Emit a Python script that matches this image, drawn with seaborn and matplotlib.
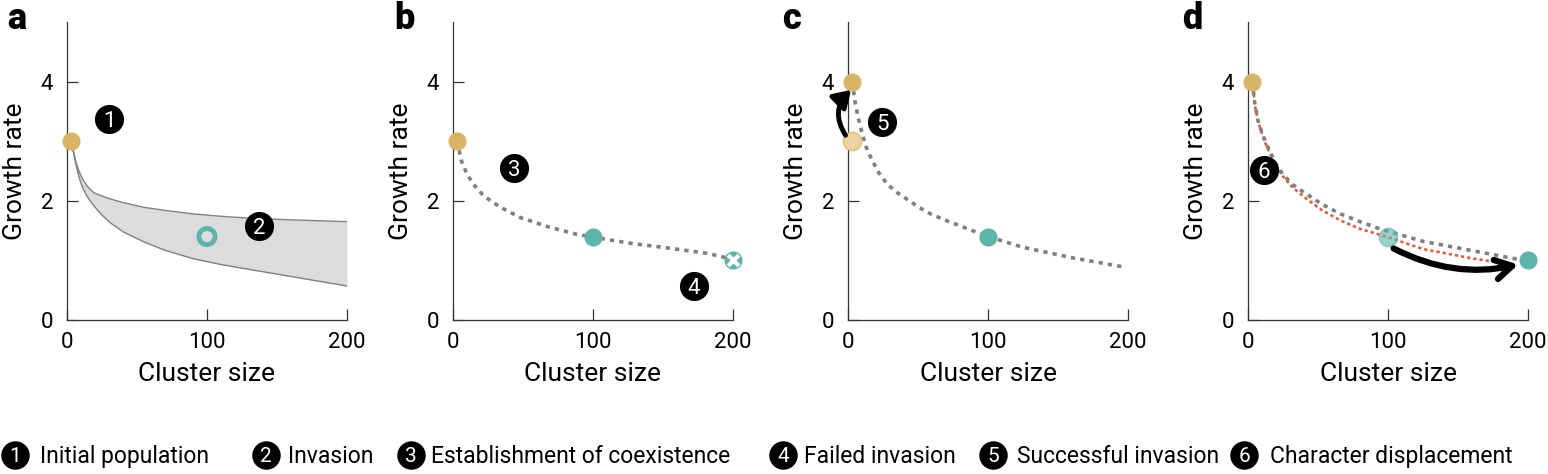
import matplotlib
matplotlib.use("Agg")
import matplotlib.pyplot as plt
import seaborn as sns
import numpy as np

# ---------------- data ----------------
YELLOW = "#D8B464"
LIGHT_YELLOW = "#EBD3A2"
TEAL = "#5BB5AA"
GRAY = "#808080"
RED = "#F0522A"

# panel a: band of possible invader curves
band_x = [3, 4, 5, 6, 8, 10, 12, 15, 19, 25, 31, 40, 55, 70, 90, 110, 130, 160, 200]
band_upper = [3.0, 2.9, 2.8, 2.68, 2.53, 2.42, 2.33, 2.23, 2.14, 2.08, 2.03, 1.97,
              1.89, 1.84, 1.78, 1.74, 1.71, 1.68, 1.65]
band_lower = [3.0, 2.88, 2.77, 2.65, 2.45, 2.29, 2.18, 2.05, 1.92, 1.76, 1.63, 1.48,
              1.31, 1.17, 1.03, 0.93, 0.85, 0.73, 0.57]

# panel b
b_x = [3, 6, 10, 14.5, 22, 34, 48, 67, 88, 100, 126, 153, 181, 200]
b_y = [3.0, 2.67, 2.45, 2.28, 2.08, 1.89, 1.72, 1.57, 1.44, 1.39, 1.29, 1.21, 1.12, 1.02]

# panel c
c_x = [3, 5, 7, 10, 13, 17, 22, 28, 35, 42, 50, 59, 70, 80, 100, 125, 161, 197]
c_y = [4.0, 3.67, 3.42, 3.14, 2.9, 2.69, 2.47, 2.28, 2.14, 2.03, 1.9, 1.78, 1.67,
       1.58, 1.4, 1.22, 1.04, 0.89]

# panel d
d_gray_x = [3, 5, 7, 10, 13, 16, 20, 25, 32, 42, 53, 66, 80, 94, 125, 161, 197]
d_gray_y = [4.0, 3.61, 3.36, 3.14, 2.96, 2.81, 2.62, 2.44, 2.27, 2.11, 1.94, 1.78,
            1.65, 1.53, 1.32, 1.16, 1.0]
d_red_x = [3, 5, 7, 10, 13, 16, 20, 25, 32, 42, 53, 66, 80, 100, 125, 161, 192]
d_red_y = [4.0, 3.6, 3.35, 3.12, 2.93, 2.78, 2.59, 2.41, 2.22, 2.03, 1.84, 1.67,
           1.53, 1.39, 1.19, 1.03, 0.92]

# points (x, y)
pt_resident_a = (3, 3.0)
pt_invader_a = (100, 1.4)
pt_resident_b = (3, 3.0)
pt_invader_b = (100, 1.4)
pt_failed_b = (200, 1.0)
pt_old_c = (3, 3.0)
pt_new_c = (3, 4.0)
pt_invader_c = (100, 1.4)
pt_resident_d = (3, 4.0)
pt_old_d = (100, 1.4)
pt_new_d = (200, 1.0)

# number badges (panel, label, x, y)
badges = [(0, "1", 30, 3.37), (0, "2", 137, 1.57), (1, "3", 43.6, 2.55),
          (1, "4", 172, 0.57), (2, "5", 24.5, 3.33), (3, "6", 11.4, 2.51)]

panel_letters = ["a", "b", "c", "d"]
x_ticks = [0, 100, 200]
y_ticks = [0, 2, 4]

legend_nums = ["1", "2", "3", "4", "5", "6"]
legend_texts = ["Initial population", "Invasion", "Establishment of coexistence",
                "Failed invasion", "Successful invasion", "Character displacement"]

# ---------------- style ----------------
sns.set_theme(style="ticks")
plt.rcParams["font.family"] = ["Roboto", "DejaVu Sans"]

W, H = 1548, 474
fig = plt.figure(figsize=(W / 100, H / 100), dpi=100)

lefts = [67, 453, 848, 1248]
ax_w, ax_top, ax_bot = 280, 22, 320
letter_x = [7, 394, 782, 1182]

axes = []
for i, l in enumerate(lefts):
    ax = fig.add_axes([l / W, (H - ax_bot) / H, ax_w / W, (ax_bot - ax_top) / H])
    ax.set_xlim(0, 200)
    ax.set_ylim(0, 5)
    ax.set_xticks(x_ticks)
    ax.set_yticks(y_ticks)
    for s in ["top", "right"]:
        ax.spines[s].set_visible(False)
    for s in ["left", "bottom"]:
        ax.spines[s].set_color("#333333")
        ax.spines[s].set_linewidth(0.9)
    ax.tick_params(axis="both", direction="in", length=8, width=0.9,
                   color="#333333", labelsize=16, labelcolor="black")
    ax.tick_params(axis="x", pad=9)
    ax.tick_params(axis="y", pad=10)
    ax.set_xlabel("Cluster size", fontsize=19, labelpad=6, color="black")
    ax.set_ylabel("Growth rate", fontsize=19, labelpad=10, color="black")
    ax.set_facecolor("none")
    fig.text(letter_x[i] / W, (H - 29) / H, panel_letters[i], fontsize=26,
             fontweight="heavy", ha="left", va="baseline", color="black")
    axes.append(ax)

dot_style = dict(linestyle=(0, (1.2, 1.4)), dash_capstyle="butt", linewidth=2.6,
                 color=GRAY)
S = 170

# ---- panel a ----
ax = axes[0]
ax.fill_between(band_x, band_lower, band_upper, color="#DCDCDC", lw=0, zorder=1)
sns.lineplot(x=band_x, y=band_upper, ax=ax, color=GRAY, lw=1, sort=False,
             estimator=None, zorder=2)
sns.lineplot(x=band_x, y=band_lower, ax=ax, color=GRAY, lw=1, sort=False,
             estimator=None, zorder=2)
sns.scatterplot(x=[pt_resident_a[0]], y=[pt_resident_a[1]], ax=ax, color=YELLOW,
                s=S, linewidth=0, clip_on=False, zorder=4)
ax.scatter([pt_invader_a[0]], [pt_invader_a[1]], s=135, facecolors="none",
           edgecolors=TEAL, linewidths=3.5, zorder=4)

# ---- panel b ----
ax = axes[1]
sns.lineplot(x=b_x, y=b_y, ax=ax, sort=False, estimator=None, zorder=2, **dot_style)
sns.scatterplot(x=[pt_resident_b[0]], y=[pt_resident_b[1]], ax=ax, color=YELLOW,
                s=S, linewidth=0, clip_on=False, zorder=4)
sns.scatterplot(x=[pt_invader_b[0]], y=[pt_invader_b[1]], ax=ax, color=TEAL,
                s=S, linewidth=0, clip_on=False, zorder=4)
sns.scatterplot(x=[pt_failed_b[0]], y=[pt_failed_b[1]], ax=ax, color=TEAL,
                s=S, linewidth=0, clip_on=False, zorder=4)
ax.scatter([pt_failed_b[0]], [pt_failed_b[1]], marker="x", s=60, color="white",
           linewidths=3, clip_on=False, zorder=5)

# ---- panel c ----
ax = axes[2]
sns.lineplot(x=c_x, y=c_y, ax=ax, sort=False, estimator=None, zorder=2, **dot_style)
ax.scatter([pt_old_c[0]], [pt_old_c[1]], s=S, color=LIGHT_YELLOW,
           edgecolors="#E2C27F", linewidths=1.2, clip_on=False, zorder=4)
sns.scatterplot(x=[pt_new_c[0]], y=[pt_new_c[1]], ax=ax, color=YELLOW,
                s=S, linewidth=0, clip_on=False, zorder=4)
sns.scatterplot(x=[pt_invader_c[0]], y=[pt_invader_c[1]], ax=ax, color=TEAL,
                s=S, linewidth=0, clip_on=False, zorder=4)
ax.annotate("", xy=(2.2, 3.86), xytext=(-1.8, 3.1),
            arrowprops=dict(arrowstyle="-|>,head_length=0.55,head_width=0.35",
                            lw=3.5, color="black", shrinkA=0, shrinkB=0,
                            mutation_scale=18,
                            connectionstyle="arc3,rad=-0.4"),
            annotation_clip=False, zorder=6)

# ---- panel d ----
ax = axes[3]
sns.lineplot(x=d_red_x, y=d_red_y, ax=ax, sort=False, estimator=None, zorder=2,
             color=RED, linewidth=1.8, linestyle=(0, (1.3, 1.2)),
             dash_capstyle="butt")
sns.lineplot(x=d_gray_x, y=d_gray_y, ax=ax, sort=False, estimator=None, zorder=2,
             **dot_style)
sns.scatterplot(x=[pt_resident_d[0]], y=[pt_resident_d[1]], ax=ax, color=YELLOW,
                s=S, linewidth=0, clip_on=False, zorder=4)
ax.scatter([pt_old_d[0]], [pt_old_d[1]], s=S, color=TEAL, alpha=0.6,
           edgecolors=TEAL, linewidths=1.2, zorder=4)
sns.scatterplot(x=[pt_new_d[0]], y=[pt_new_d[1]], ax=ax, color=TEAL,
                s=S, linewidth=0, clip_on=False, zorder=4)
ax.annotate("", xy=(193, 0.93), xytext=(104, 1.2),
            arrowprops=dict(arrowstyle="->,head_length=0.6,head_width=0.35",
                            lw=4.5, color="black", shrinkA=0, shrinkB=0,
                            mutation_scale=20,
                            connectionstyle="arc3,rad=0.18"),
            annotation_clip=False, zorder=6)

# ---- badges ----
for p, lab, bx, by in badges:
    ax = axes[p]
    ax.scatter([bx], [by], s=440, color="black", linewidths=0, zorder=7,
               clip_on=False)
    ax.text(bx, by, lab, color="white", fontsize=16, ha="center",
            va="center_baseline", zorder=8)

# ---- legend row ----
lax = fig.add_axes([0, 0, 1, 50 / H])
lax.set_xlim(0, W)
lax.set_ylim(H, H - 50)
lax.axis("off")
badge_cx = [15, 266, 411, 783, 993, 1244]
text_x = [40, 288, 431, 804, 1017, 1270]
sns.scatterplot(x=badge_cx, y=[455] * 6, ax=lax, color="black", s=420,
                linewidth=0, clip_on=False)
for n, t, bx, tx in zip(legend_nums, legend_texts, badge_cx, text_x):
    lax.text(bx, 455, n, color="white", fontsize=15, ha="center",
             va="center_baseline")
    lax.text(tx, 463, t, color="black", fontsize=16.5, ha="left", va="baseline")

fig.savefig("out.png", dpi=100)
